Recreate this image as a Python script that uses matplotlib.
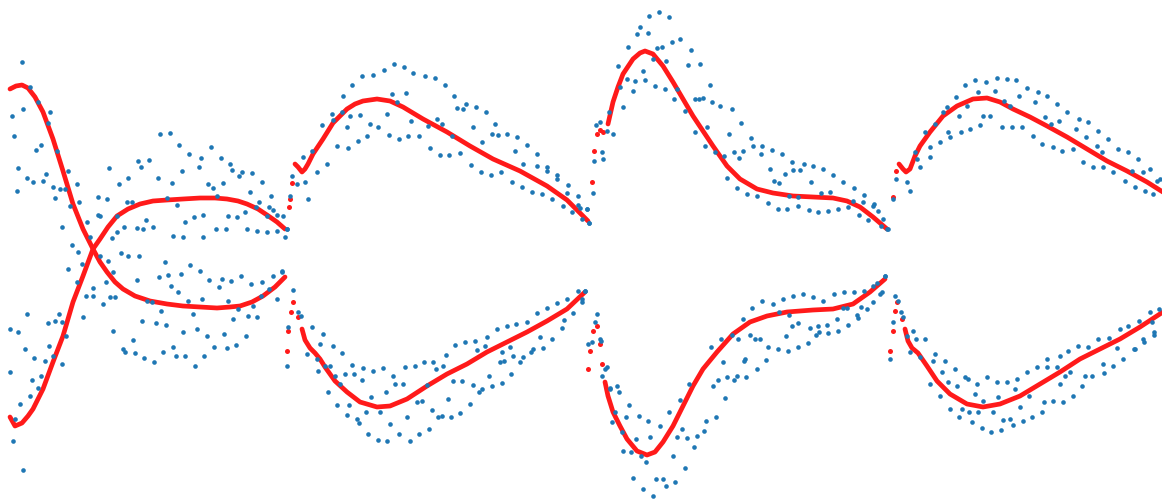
import numpy as np
import matplotlib
matplotlib.use("Agg")
import matplotlib.pyplot as plt

# red fitted curves, (sample, value) pairs; value axis points down
red_p1_a = [(10, 90), (16, 87), (22, 86), (28, 89), (35, 98), (43, 113), (53, 140), (63, 172),
            (73, 205), (83, 230), (93, 250), (100, 263), (107, 273), (115, 283), (123, 290),
            (135, 297), (150, 302), (167, 305), (183, 307), (200, 308), (217, 309), (230, 308),
            (240, 307), (252, 303), (263, 297), (275, 288), (285, 278)]
red_p1_b = [(10, 418), (15, 427), (22, 424), (28, 417), (33, 410), (43, 390), (53, 363), (63, 337),
            (73, 303), (83, 277), (93, 250), (100, 240), (108, 228), (117, 217), (128, 210),
            (140, 205), (153, 202), (167, 201), (183, 200), (200, 199), (215, 199), (227, 200),
            (238, 202), (247, 205), (258, 210), (267, 216), (277, 223), (285, 230)]
red_p2_a = [(295, 165), (298, 168), (302, 173), (305, 170), (308, 165),
            (313, 155), (323, 140), (333, 124), (347, 110), (355, 105), (363, 102), (377, 100),
            (390, 102), (403, 108), (423, 120), (447, 133), (470, 147), (493, 160), (520, 172),
            (547, 187), (567, 201), (588, 222)]
red_p2_b = [(302, 330), (305, 341),
            (310, 349), (315, 354), (320, 360), (325, 368), (335, 382), (347, 393), (360, 403),
            (377, 408), (390, 407), (407, 400), (427, 387), (447, 375), (467, 365), (487, 353),
            (507, 343), (527, 333), (547, 322), (567, 310), (585, 293)]
red_p3_a = [(608, 125), (613, 103),
            (618, 88), (623, 75), (633, 60), (640, 54), (645, 52), (653, 55), (663, 67), (673, 83),
            (683, 100), (693, 117), (703, 132), (713, 147), (727, 167), (740, 180), (757, 190),
            (773, 194), (793, 197), (813, 198), (833, 199), (847, 202), (860, 208), (873, 218),
            (887, 230)]
red_p3_b = [(605, 383),
            (608, 397), (613, 413), (620, 427), (627, 440), (637, 452), (647, 456), (655, 453),
            (663, 443), (673, 427), (683, 407), (693, 387), (703, 370), (717, 353), (733, 335),
            (750, 323), (767, 317), (787, 313), (813, 311), (833, 310), (853, 305), (870, 293),
            (885, 280)]
red_p4_a = [(899, 165), (903, 170), (906, 173), (910, 170), (915, 157),
            (920, 147), (930, 133), (943, 117), (957, 107), (973, 100), (987, 99), (1000, 103),
            (1013, 110), (1030, 118), (1047, 127), (1067, 138), (1087, 150), (1107, 162),
            (1127, 172), (1147, 183), (1166, 195)]
red_p4_b = [(905, 330), (908, 342),
            (912, 349), (918, 354), (927, 367), (937, 382), (950, 395), (967, 405), (983, 408),
            (1000, 405), (1020, 397), (1040, 385), (1060, 373), (1080, 360), (1100, 350),
            (1120, 340), (1140, 328), (1166, 311)]

# sparse red samples at the jumpy start of each segment
red_start = [(289, 208), (290, 200), (292, 184),
             (287, 352), (288, 332), (291, 313), (293, 303), (298, 318),
             (592, 183), (594, 152), (597, 135), (600, 131), (603, 133),
             (588, 370), (590, 352), (593, 332), (597, 327), (600, 345), (602, 365),
             (893, 198), (896, 172),
             (890, 352), (893, 332), (895, 312), (897, 303), (902, 320)]

# blue samples
blue_p1 = [(22, 63), (12, 117), (14, 137), (23, 110), (30, 88), (38, 103), (50, 113), (48, 124),
           (36, 151), (41, 146), (18, 169), (27, 179), (33, 183), (43, 182), (46, 175), (17, 192),
           (57, 152), (53, 188), (55, 199), (60, 190), (65, 190), (68, 172), (70, 207), (77, 185),
           (79, 203), (87, 223), (90, 238), (62, 228), (72, 246), (98, 198), (107, 200), (109, 169),
           (100, 217), (119, 185), (128, 179), (127, 203), (132, 203), (138, 162), (149, 161),
           (141, 168), (158, 179), (160, 135), (170, 134), (179, 146), (172, 184), (182, 172),
           (189, 155), (201, 159), (199, 168), (211, 148), (221, 159), (208, 185), (213, 189),
           (223, 184), (230, 165), (232, 171), (239, 177), (242, 173), (252, 174), (262, 183),
           (250, 193), (269, 208), (273, 211), (283, 217), (271, 197), (259, 203), (217, 197),
           (177, 206), (167, 199), (185, 223), (194, 218), (203, 216), (228, 217), (237, 218),
           (245, 213), (256, 208), (267, 217), (277, 216), (287, 230), (285, 238), (137, 229),
           (143, 230), (153, 228), (146, 221), (124, 228), (117, 217), (98, 216), (112, 239),
           (117, 233), (173, 237), (183, 238), (203, 238), (216, 230), (226, 230), (247, 230),
           (257, 232), (267, 233), (277, 232),
           (78, 253), (82, 265), (68, 270), (77, 283), (86, 297), (93, 289), (93, 297), (83, 318),
           (103, 305), (110, 298), (115, 298), (106, 283), (113, 273), (108, 262), (100, 257),
           (121, 254), (128, 257), (139, 257), (137, 281), (147, 302), (152, 303), (159, 278),
           (165, 263), (168, 276), (171, 287), (178, 293), (181, 275), (190, 266), (200, 272),
           (209, 281), (219, 288), (222, 280), (231, 282), (241, 277), (251, 285), (262, 283),
           (273, 277), (282, 273), (269, 290), (277, 300), (261, 297), (253, 307), (248, 317),
           (257, 318), (233, 320), (238, 310), (228, 302), (202, 300), (188, 302), (193, 315),
           (161, 312), (142, 322), (156, 324), (166, 326), (183, 333), (197, 330), (207, 337),
           (224, 335), (246, 337), (113, 332), (133, 341), (123, 350), (125, 353), (135, 354),
           (144, 359), (154, 363), (163, 353), (173, 348), (176, 357), (185, 357), (195, 367),
           (204, 357), (214, 348), (227, 349), (236, 346), (27, 315), (18, 333), (25, 350),
           (34, 359), (45, 362), (53, 357), (62, 365), (49, 347), (48, 324), (55, 322), (59, 315),
           (62, 323), (66, 337), (32, 381), (41, 377), (38, 389), (30, 397), (20, 405), (10, 373),
           (15, 420), (13, 442), (23, 471), (10, 330)]
blue_p2 = [(287, 230), (290, 197), (292, 177), (297, 185), (303, 158), (305, 183), (308, 200),
           (312, 152), (317, 173), (322, 126), (327, 165), (332, 115), (333, 121), (337, 147),
           (342, 113), (343, 97), (347, 128), (348, 149), (352, 86), (350, 117), (358, 142),
           (360, 116), (362, 77), (367, 137), (370, 125), (373, 76), (378, 128), (384, 71),
           (387, 115), (389, 136), (392, 95), (394, 65), (397, 103), (399, 140), (404, 68),
           (406, 94), (408, 137), (411, 122), (413, 74), (419, 137), (425, 77), (428, 127),
           (430, 149), (435, 79), (437, 120), (440, 156), (442, 125), (445, 86), (449, 156),
           (452, 137), (454, 97), (457, 109), (460, 154), (463, 110), (466, 105), (471, 166),
           (473, 128), (476, 108), (481, 173), (482, 143), (486, 113), (491, 176), (492, 135),
           (495, 125), (498, 136), (501, 173), (507, 135), (512, 183), (517, 138), (522, 188),
           (527, 146), (532, 193), (537, 155), (542, 195), (547, 168), (552, 200), (557, 176),
           (563, 207), (568, 186), (572, 213), (578, 197), (582, 220), (587, 210), (589, 224),
           (515, 152), (523, 165), (537, 167), (547, 172), (557, 180), (567, 194), (578, 206),
           (282, 272), (293, 291), (298, 313), (301, 317), (288, 328), (287, 367), (312, 328),
           (323, 335), (320, 345), (333, 347), (307, 355), (317, 360), (325, 367), (330, 367),
           (318, 372), (342, 354), (352, 366), (363, 369), (373, 372), (383, 369), (345, 375),
           (354, 375), (362, 381), (335, 377), (340, 385), (328, 393), (337, 406), (349, 406),
           (347, 416), (357, 420), (359, 424), (366, 413), (371, 398), (380, 413), (386, 393),
           (393, 377), (395, 385), (403, 385), (405, 368), (415, 367), (424, 363), (433, 363),
           (443, 367), (436, 370), (446, 356), (455, 346), (465, 343), (475, 342), (477, 351),
           (487, 338), (485, 347), (497, 330), (507, 327), (516, 325), (527, 323), (537, 314),
           (547, 309), (557, 304), (567, 300), (578, 292), (585, 292), (582, 303), (573, 314),
           (564, 321), (562, 329), (552, 340), (543, 349), (540, 338), (533, 350), (531, 353),
           (523, 358), (520, 363), (513, 357), (510, 348), (502, 353), (504, 362), (500, 363),
           (511, 375), (502, 384), (492, 387), (489, 377), (482, 390), (479, 393), (473, 386),
           (470, 405), (460, 414), (451, 418), (442, 417), (438, 418), (432, 411), (429, 430),
           (419, 435), (410, 442), (399, 435), (407, 418), (390, 425), (387, 442), (378, 441),
           (368, 435), (417, 403), (422, 402), (427, 386), (448, 400), (453, 382), (462, 382)]
blue_p3 = [(580, 209), (587, 210), (589, 224), (593, 194), (594, 162), (602, 153), (603, 160),
           (596, 126), (600, 123), (607, 132), (613, 135), (609, 113), (623, 108), (620, 88),
           (618, 67), (627, 80), (628, 48), (633, 92), (635, 82), (637, 35), (640, 28), (643, 72),
           (645, 81), (648, 34), (649, 17), (659, 13), (669, 18), (653, 60), (657, 49), (662, 48),
           (666, 62), (655, 87), (665, 90), (672, 43), (680, 40), (677, 90), (674, 100),
           (685, 112), (691, 51), (688, 66), (695, 100), (699, 100), (703, 99), (710, 86),
           (700, 65), (695, 133), (707, 128), (705, 147), (712, 103), (720, 107), (732, 110),
           (715, 153), (724, 157), (729, 135), (741, 124), (727, 179), (737, 189), (734, 153),
           (739, 159), (743, 152), (751, 139), (753, 147), (747, 195), (757, 197), (762, 147),
           (761, 155), (772, 151), (782, 155), (770, 170), (779, 184), (774, 182), (785, 175),
           (792, 163), (793, 171), (804, 165), (813, 167), (823, 170), (833, 176), (843, 183),
           (854, 189), (864, 196), (873, 207), (878, 212), (881, 227), (887, 230), (800, 171),
           (811, 183), (821, 194), (830, 193), (768, 204), (778, 210), (787, 210), (798, 207),
           (809, 211), (818, 213), (828, 212), (838, 210), (848, 208), (859, 216), (868, 221),
           (853, 202), (863, 203), (874, 205), (798, 198), (789, 197),
           (585, 292), (582, 300), (597, 315), (595, 323), (588, 345), (600, 340), (605, 370),
           (602, 377), (607, 368), (617, 387), (619, 393), (610, 390), (615, 413), (612, 423),
           (622, 433), (626, 418), (629, 406), (623, 452), (631, 453), (636, 440), (639, 417),
           (648, 422), (660, 427), (650, 438), (641, 457), (646, 463), (633, 479), (643, 490),
           (653, 497), (656, 480), (663, 480), (666, 487), (675, 483), (673, 457), (677, 438),
           (669, 413), (680, 401), (689, 385), (682, 430), (687, 439), (694, 448), (697, 437),
           (685, 469), (704, 432), (706, 422), (716, 418), (713, 387), (718, 381), (725, 399),
           (727, 378), (734, 381), (737, 377), (746, 378), (744, 362), (757, 370), (766, 361),
           (768, 348), (778, 350), (788, 352), (798, 348), (808, 344), (816, 336), (819, 333),
           (828, 334), (838, 332), (848, 326), (858, 319), (867, 310), (873, 303), (880, 295),
           (885, 277), (723, 363), (711, 348), (721, 340), (732, 336), (743, 320), (750, 336),
           (755, 340), (760, 340), (762, 302), (752, 309), (773, 305), (783, 300), (793, 297),
           (803, 295), (813, 298), (823, 302), (834, 295), (844, 293), (854, 293), (864, 292),
           (873, 287), (877, 284), (786, 337), (798, 324), (810, 329), (818, 327), (827, 326),
           (837, 320), (847, 309), (857, 316), (779, 313), (789, 316), (843, 309), (861, 308),
           (792, 327), (738, 340), (745, 360), (592, 343), (601, 342), (610, 389)]
blue_p4 = [(883, 220), (888, 230), (893, 200), (896, 180), (907, 183), (910, 192), (915, 153),
           (917, 160), (920, 168), (925, 133), (930, 148), (930, 158), (935, 125), (940, 143),
           (943, 113), (947, 108), (948, 133), (950, 138), (956, 98), (959, 117), (961, 133),
           (965, 86), (967, 107), (970, 130), (975, 81), (978, 93), (980, 126), (983, 117),
           (986, 83), (990, 117), (995, 92), (997, 79), (1002, 128), (1004, 102), (1007, 80),
           (1010, 107), (1012, 128), (1016, 81), (1019, 97), (1022, 128), (1027, 89), (1033, 137),
           (1035, 103), (1038, 93), (1042, 145), (1045, 118), (1047, 97), (1051, 125), (1053, 148),
           (1057, 105), (1059, 122), (1062, 152), (1067, 113), (1073, 150), (1076, 130),
           (1079, 120), (1083, 163), (1086, 138), (1088, 123), (1093, 168), (1097, 147),
           (1098, 132), (1102, 153), (1103, 168), (1108, 140), (1113, 173), (1118, 150),
           (1125, 182), (1128, 153), (1132, 172), (1135, 188), (1138, 160), (1143, 173),
           (1145, 192), (1150, 170), (1153, 195), (1157, 182), (1160, 180),
           (885, 277), (882, 293), (895, 297), (898, 302), (901, 313), (903, 318), (893, 323),
           (890, 360), (907, 337), (913, 332), (916, 340), (925, 340), (910, 353), (920, 358),
           (935, 355), (933, 362), (945, 362), (942, 373), (955, 370), (930, 385), (948, 383),
           (957, 387), (965, 378), (968, 380), (977, 385), (940, 397), (950, 410), (962, 410),
           (969, 413), (975, 395), (978, 413), (987, 378), (997, 383), (1007, 383), (1017, 380),
           (1027, 373), (1037, 368), (1047, 368), (1057, 368), (1065, 377), (1070, 373),
           (959, 418), (972, 423), (982, 429), (991, 433), (1001, 431), (1003, 421), (1010, 420),
           (1013, 426), (1023, 422), (1032, 418), (1042, 413), (983, 402), (993, 413), (998, 398),
           (1015, 390), (1020, 408), (1029, 397), (1044, 403), (1053, 402), (1063, 403),
           (1073, 397), (1082, 387), (1092, 377), (1104, 374), (1113, 367), (1123, 360),
           (1134, 350), (1144, 343), (1154, 336), (1060, 385), (1085, 377), (1103, 365),
           (1060, 357), (1068, 352), (1078, 347), (1088, 348), (1098, 340), (1109, 339),
           (1117, 349), (1120, 330), (1128, 327), (1135, 350), (1139, 322), (1143, 340),
           (1150, 313), (1152, 323), (1154, 333), (1159, 310), (1047, 360)]

red_curves = [red_p1_a, red_p1_b, red_p2_a, red_p2_b, red_p3_a, red_p3_b, red_p4_a, red_p4_b]
blue_sets = [blue_p1, blue_p2, blue_p3, blue_p4]

fig = plt.figure(figsize=(11.62, 5.02), dpi=100)
ax = fig.add_axes([0, 0, 1, 1])

for curve in red_curves:
    c = np.array(curve)
    ax.plot(c[:, 0], c[:, 1], color="#ff1a1a", lw=3.4,
            solid_capstyle="round", solid_joinstyle="round", zorder=2)

s0 = np.array(red_start)
ax.scatter(s0[:, 0], s0[:, 1], s=13, color="#ff1a1a", linewidths=0, zorder=2)

for pts in blue_sets:
    p = np.array(pts)
    ax.scatter(p[:, 0], p[:, 1], s=11, color="#1f77b4", linewidths=0, zorder=3)

ax.set_xlim(0, 1162)
ax.set_ylim(502, 0)
ax.axis("off")

fig.savefig("out.png", dpi=100)
